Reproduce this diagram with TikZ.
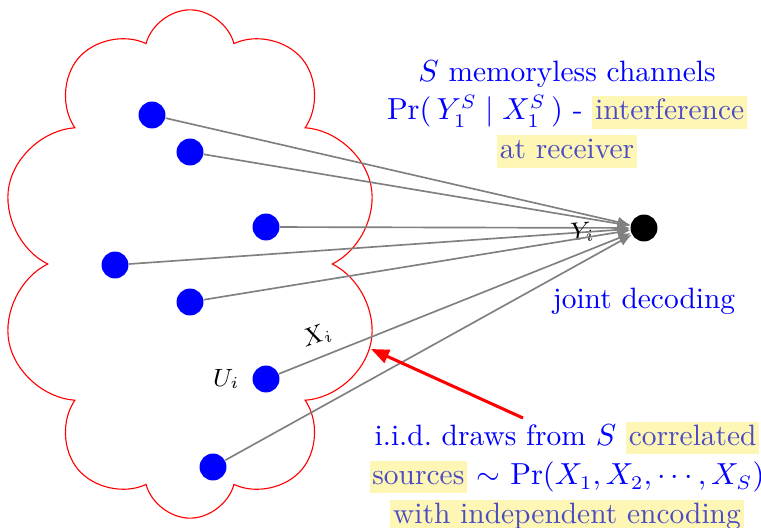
\documentclass[tikz,border=0pt]{standalone}
\usetikzlibrary{arrows.meta,shapes.symbols}
\definecolor{hlback}{RGB}{253,246,180}
\definecolor{hltext}{RGB}{75,75,195}
\newcommand{\hlt}[1]{{\setlength{\fboxsep}{1pt}\colorbox{hlback}{\color{hltext}\vphantom{Ag}#1}}}

\begin{document}
\begin{tikzpicture}[x=0.36pt,y=-0.36pt,
    src/.style={circle,fill=blue,inner sep=0pt,minimum size=9.7pt},
    link/.style={draw=gray,line width=0.6pt,-{Latex[length=4.5pt,width=3.8pt]}},
    note/.style={text=blue,align=center,font=\fontsize{10.6}{14}\selectfont}]
        \useasboundingbox (0,0) rectangle (761,528);

        % oblak zdroju
        \node[cloud,cloud puffs=10,cloud ignores aspect,draw=red,
              minimum width=137pt,minimum height=183pt] (crowd) at (190,264) {};

        % zdroje
        \node[src] (u1) at (152,115) {};
        \node[src] (u2) at (190,152) {};
        \node[src] (u3) at (266,227) {};
        \node[src] (u4) at (115,265) {};
        \node[src] (u5) at (190,302) {};
        \node[src] (u6) at (266,379) {};
        \node[src] (u7) at (213,467) {};
        \node[left=1pt] (ulab) at (u6.west) {\small $U_i$};

        % prijimac
        \node[circle,fill=black,inner sep=0pt,minimum size=9.7pt] (rx) at (644,228) {};

        % kanaly
        \draw[link] (u1) -- (rx);
        \draw[link] (u2) -- (rx);
        \draw[link] (u3) -- (rx);
        \draw[link] (u4) -- node[sloped,pos=0.905] (ylab) {\small $Y_i$} (rx);
        \draw[link] (u5) -- (rx);
        \draw[link] (u6) -- (rx);
        \draw[link] (u7) -- (rx);
        \node[rotate=20] (xlab) at (317,336) {\small $X_i$};

        % popisky
        \node[note] (chan) at (567,114)
            {$S$ memoryless channels\\
             $\Pr(\,Y_1^S \mid X_1^S\,)$ - \hlt{interference}\\
             \hlt{at receiver}};
        \node[note] (dec) at (644,301) {joint decoding};
        \node[note] (srcs) at (567,477)
            {i.i.d.\ draws from $S$ \hlt{correlated}\\
             \hlt{sources} $\sim$ $\Pr(X_1,X_2,\cdots,X_S)$\\
             \hlt{with independent encoding}};

        \coordinate (tail) at (523,418);
        \coordinate (tip) at (371,349);
        \draw[red,line width=1.1pt,-{Triangle[length=6.5pt,width=5pt]}] (tail) -- (tip);

    \end{tikzpicture}
\end{document}
